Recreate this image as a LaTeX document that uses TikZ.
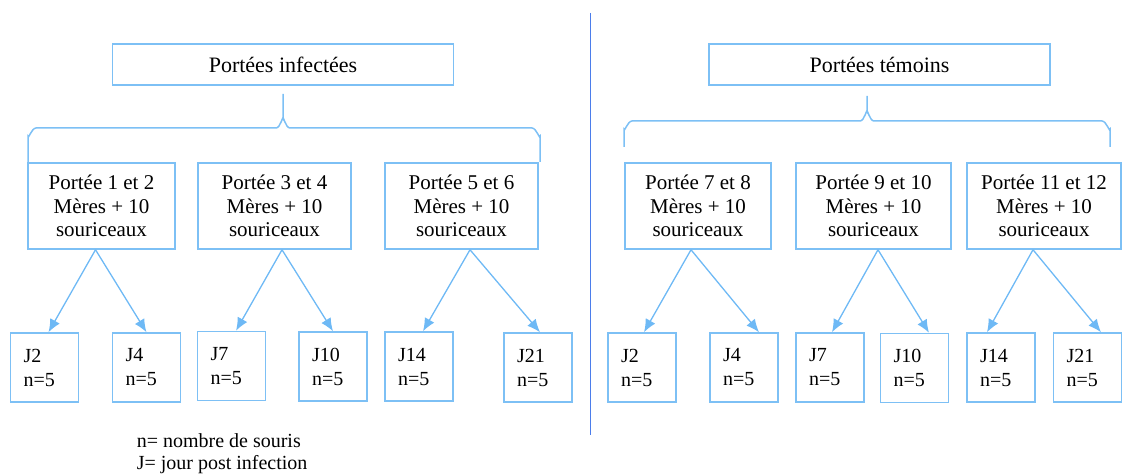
\documentclass[tikz,border=0pt]{standalone}
\usepackage{fontspec}
\setmainfont{Liberation Serif}
\usetikzlibrary{arrows.meta}
\definecolor{boxblue}{RGB}{125,192,245}
\definecolor{arrowblue}{RGB}{110,185,245}
\definecolor{lineblue}{RGB}{75,125,235}

\begin{document}
\begin{tikzpicture}[x=1pt, y=-1pt,
  every node/.style={draw=boxblue, line width=1.5pt, inner sep=0pt},
  titlebox/.style={minimum width=341pt, minimum height=41pt, font=\fontsize{22}{26}\selectfont},
  litter/.style={minimum height=86pt, align=center, font=\fontsize{21}{23.5}\selectfont},
  daybox/.style={minimum width=68pt, minimum height=69pt, text width=42pt, align=left, font=\fontsize{20}{24}\selectfont},
  brace/.style={draw=boxblue, line width=1.5pt},
  link/.style={->, draw=arrowblue, line width=1.3pt},
  >={Latex[length=13pt,width=11pt]}]
\useasboundingbox (0,0) rectangle (1125,476);

\node[titlebox] (infect) at (283,64.5) {Portées infectées};
\node[titlebox] (temoin) at (879.5,64.5) {Portées témoins};

\draw[brace] (28,162) -- (28,136) to[out=270,in=180] (36,128) -- (276,128) to[out=0,in=90] (283,119) -- (283,94);
\draw[brace] (283,119) to[out=90,in=180] (290,128) -- (532,128) to[out=0,in=270] (540,136) -- (540,162);
\draw[brace] (624,147) -- (624,129) to[out=270,in=180] (632,121) -- (860,121) to[out=0,in=90] (867,112) -- (867,96);
\draw[brace] (867,112) to[out=90,in=180] (874,121) -- (1102,121) to[out=0,in=270] (1110,129) -- (1110,147);

\node[litter, minimum width=147pt] (p12) at (101.5,206) {Portée 1 et 2\\Mères + 10\\souriceaux};
\node[litter, minimum width=153pt] (p34) at (274.5,206) {Portée 3 et 4\\Mères + 10\\souriceaux};
\node[litter, minimum width=153pt] (p56) at (461.5,206) {Portée 5 et 6\\Mères + 10\\souriceaux};
\node[litter, minimum width=146pt] (p78) at (698,206) {Portée 7 et 8\\Mères + 10\\souriceaux};
\node[litter, minimum width=155pt] (p910) at (873.5,206) {Portée 9 et 10\\Mères + 10\\souriceaux};
\node[litter, minimum width=154pt] (p1112) at (1044,206) {Portée 11 et 12\\Mères + 10\\souriceaux};

\node[daybox] (ij2) at (44.5,367.5) {J2\\n=5};
\node[daybox] (ij4) at (146.5,367.5) {J4\\n=5};
\node[daybox] (ij7) at (231.5,366) {J7\\n=5};
\node[daybox] (ij10) at (333,366.5) {J10\\n=5};
\node[daybox] (ij14) at (419,366.5) {J14\\n=5};
\node[daybox] (ij21) at (538,367.5) {J21\\n=5};
\node[daybox] (tj2) at (642,367.5) {J2\\n=5};
\node[daybox] (tj4) at (744,367.5) {J4\\n=5};
\node[daybox] (tj7) at (830,367.5) {J7\\n=5};
\node[daybox] (tj10) at (914.5,368) {J10\\n=5};
\node[daybox] (tj14) at (1001,367.5) {J14\\n=5};
\node[daybox] (tj21) at (1087.5,367.5) {J21\\n=5};

\draw[link] ([xshift=-6pt]p12.south) -- ([xshift=4pt]ij2.north);
\draw[link] ([xshift=-6pt]p12.south) -- (ij4.north);
\draw[link] ([xshift=7.5pt]p34.south) -- ([xshift=4.5pt]ij7.north);
\draw[link] ([xshift=7.5pt]p34.south) -- (ij10.north);
\draw[link] ([xshift=8.5pt]p56.south) -- ([xshift=4pt]ij14.north);
\draw[link] ([xshift=8.5pt]p56.south) -- ([xshift=2pt]ij21.north);
\draw[link] ([xshift=-7pt]p78.south) -- ([xshift=2pt]tj2.north);
\draw[link] ([xshift=-7pt]p78.south) -- ([xshift=15pt]tj4.north);
\draw[link] ([xshift=4.5pt]p910.south) -- ([xshift=2pt]tj7.north);
\draw[link] ([xshift=4.5pt]p910.south) -- ([xshift=14.5pt]tj10.north);
\draw[link] ([xshift=-11pt]p1112.south) -- ([xshift=-14pt]tj14.north);
\draw[link] ([xshift=-11pt]p1112.south) -- ([xshift=13.5pt]tj21.north);

\draw[lineblue, line width=1.4pt] (590.5,13) -- (590.5,435);

\node[draw=none, anchor=west, align=left, font=\fontsize{20}{22}\selectfont] (legend) at (136,454) {n= nombre de souris\\J= jour post infection};
\end{tikzpicture}
\end{document}
